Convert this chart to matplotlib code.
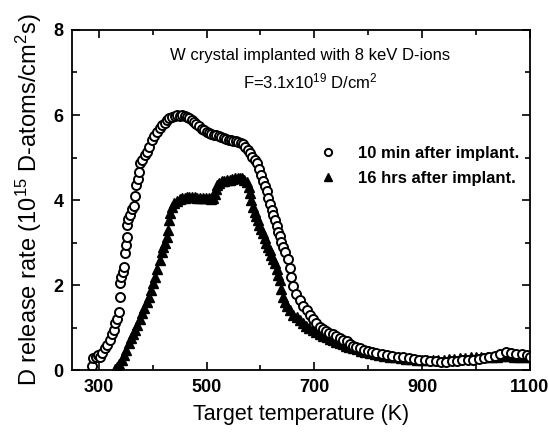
import numpy as np
import matplotlib
matplotlib.use('Agg')
import matplotlib.pyplot as plt
from matplotlib.ticker import MultipleLocator

plt.rcParams['font.family'] = ['Liberation Sans', 'DejaVu Sans']
plt.rcParams['mathtext.fontset'] = 'custom'
plt.rcParams['mathtext.rm'] = 'Liberation Sans'
plt.rcParams['mathtext.bf'] = 'Liberation Sans:bold'
plt.rcParams['mathtext.default'] = 'regular'

# 10 min after implant (open circles)
t_10min = [287, 290, 294, 298, 302, 306, 311, 316, 321, 325, 328, 330, 333, 337, 339, 339,
           341, 344, 347, 348, 350, 352, 352, 355, 358, 362, 365, 367, 369, 372, 374, 377,
           381, 385, 389, 393, 398, 403, 408, 413, 417, 422, 427, 431, 436, 441, 445, 450,
           454, 459, 463, 467, 472, 477, 481, 486, 491, 495, 500, 504, 509, 514, 518, 523,
           527, 532, 536, 541, 545, 549, 554, 558, 563, 567, 571, 576, 580, 584, 589, 593,
           597, 601, 604, 608, 612, 614, 618, 621, 624, 627, 630, 633, 636, 639, 642, 646,
           651, 654, 657, 660, 666, 673, 679, 686, 692, 698, 704, 710, 716, 722, 728, 734,
           740, 747, 753, 760, 766, 772, 778, 784, 792, 800, 808, 815, 825, 835, 845, 855,
           865, 875, 885, 895, 905, 915, 925, 935, 945, 955, 965, 975, 985, 995, 1005, 1015,
           1025, 1035, 1045, 1055, 1065, 1075, 1085, 1095, 1100]
r_10min = [0.10, 0.28, 0.30, 0.35, 0.30, 0.40, 0.52, 0.60, 0.71, 0.85, 0.94, 1.10, 1.20, 1.36, 1.72, 2.05,
           2.20, 2.30, 2.42, 2.75, 2.95, 3.13, 3.41, 3.55, 3.65, 3.80, 3.85, 4.10, 4.35, 4.50, 4.66, 4.87,
           4.95, 5.05, 5.12, 5.25, 5.41, 5.50, 5.60, 5.70, 5.76, 5.82, 5.88, 5.92, 5.95, 5.98, 6.00, 5.98,
           6.00, 5.97, 5.95, 5.93, 5.88, 5.83, 5.78, 5.74, 5.68, 5.64, 5.60, 5.58, 5.55, 5.53, 5.53, 5.50,
           5.48, 5.46, 5.44, 5.41, 5.41, 5.40, 5.38, 5.37, 5.35, 5.32, 5.25, 5.17, 5.10, 5.02, 4.95, 4.87,
           4.72, 4.60, 4.45, 4.32, 4.22, 4.05, 3.90, 3.76, 3.65, 3.53, 3.38, 3.25, 3.15, 3.02, 2.89, 2.78,
           2.62, 2.40, 2.20, 1.98, 1.80, 1.65, 1.52, 1.41, 1.30, 1.20, 1.10, 1.01, 0.96, 0.91, 0.88, 0.85,
           0.80, 0.76, 0.72, 0.68, 0.62, 0.58, 0.55, 0.52, 0.48, 0.45, 0.43, 0.40, 0.38, 0.36, 0.34, 0.32,
           0.30, 0.28, 0.27, 0.25, 0.24, 0.22, 0.21, 0.20, 0.20, 0.21, 0.22, 0.23, 0.23, 0.24, 0.26, 0.28,
           0.30, 0.33, 0.37, 0.42, 0.40, 0.37, 0.38, 0.35, 0.32]

# 16 hrs after implant (filled triangles)
t_16hrs = [330, 334, 338, 343, 347, 351, 356, 360, 364, 367, 371, 376, 380, 384, 389, 393,
           397, 401, 404, 408, 413, 417, 420, 423, 426, 428, 430, 433, 436, 440, 445, 450,
           454, 459, 463, 468, 472, 478, 483, 488, 493, 498, 504, 509, 512, 515, 517, 519,
           523, 528, 533, 538, 543, 548, 553, 558, 562, 566, 570, 575, 578, 580, 583, 586,
           589, 592, 595, 598, 601, 604, 608, 611, 614, 617, 620, 624, 627, 630, 633, 636,
           639, 642, 646, 650, 655, 661, 667, 673, 679, 685, 691, 697, 704, 710, 717, 723,
           729, 735, 741, 747, 753, 759, 765, 771, 779, 787, 795, 803, 812, 821, 830, 840,
           850, 860, 870, 880, 890, 900, 910, 920, 930, 940, 950, 960, 970, 980, 990, 1000,
           1010, 1020, 1030, 1040, 1050, 1060, 1070, 1080, 1090, 1100]
r_16hrs = [0.03, 0.08, 0.15, 0.23, 0.35, 0.48, 0.63, 0.75, 0.86, 0.94, 1.07, 1.20, 1.34, 1.46, 1.60, 1.72,
           1.88, 2.05, 2.19, 2.38, 2.59, 2.78, 2.90, 2.99, 3.13, 3.30, 3.53, 3.70, 3.84, 3.92, 3.98, 4.02,
           4.05, 4.05, 4.07, 4.07, 4.07, 4.07, 4.06, 4.06, 4.05, 4.05, 4.05, 4.02, 4.05, 4.15, 4.25, 4.35,
           4.40, 4.44, 4.46, 4.47, 4.48, 4.50, 4.51, 4.52, 4.52, 4.51, 4.48, 4.42, 4.30, 4.16, 4.00, 3.84,
           3.72, 3.62, 3.53, 3.42, 3.32, 3.22, 3.10, 2.98, 2.90, 2.82, 2.72, 2.62, 2.52, 2.38, 2.25, 2.12,
           1.92, 1.72, 1.60, 1.50, 1.41, 1.30, 1.24, 1.18, 1.11, 1.05, 0.99, 0.94, 0.89, 0.85, 0.81, 0.78,
           0.74, 0.71, 0.67, 0.64, 0.61, 0.58, 0.55, 0.52, 0.49, 0.46, 0.43, 0.40, 0.38, 0.35, 0.33, 0.31,
           0.30, 0.28, 0.27, 0.26, 0.25, 0.25, 0.24, 0.24, 0.25, 0.25, 0.26, 0.27, 0.28, 0.29, 0.30, 0.30,
           0.30, 0.31, 0.32, 0.32, 0.33, 0.33, 0.32, 0.32, 0.31, 0.30]

fig = plt.figure(figsize=(5.49, 4.34), dpi=100)
ax = fig.add_axes([0.131, 0.147, 0.834, 0.784])

# 三角形先画，圆圈在上面
ax.plot(t_16hrs, r_16hrs, ls='none', marker='^', ms=7, mfc='black', mec='black',
        label='16 hrs after implant.')
ax.plot(t_10min, r_10min, ls='none', marker='o', ms=6.5, mfc='white', mec='black', mew=1.4,
        label='10 min after implant.')

ax.set_xlim(250, 1100)
ax.set_ylim(0, 8)
ax.xaxis.set_minor_locator(MultipleLocator(100))
ax.set_xticks([300, 500, 700, 900, 1100])
ax.yaxis.set_major_locator(MultipleLocator(2))
ax.yaxis.set_minor_locator(MultipleLocator(1))
ax.tick_params(which='both', direction='in', top=True, right=True, width=1.2)
ax.tick_params(which='major', length=6, labelsize=13, pad=6)
ax.tick_params(which='minor', length=3.5)
for lbl in ax.get_xticklabels() + ax.get_yticklabels():
    lbl.set_fontweight('bold')
for s in ax.spines.values():
    s.set_linewidth(1.3)

ax.set_xlabel('Target temperature (K)', fontsize=15.5, labelpad=6)
ax.set_ylabel(r'D release rate (10$^{15}$ D-atoms/cm$^{2}$s)', fontsize=17, labelpad=7)

ax.text(0.52, 0.925, 'W crystal implanted with 8 keV D-ions', transform=ax.transAxes,
        ha='center', va='center', fontsize=12)
ax.text(0.52, 0.85, r'F=3.1x10$^{19}$ D/cm$^{2}$', transform=ax.transAxes,
        ha='center', va='center', fontsize=12)

h, l = ax.get_legend_handles_labels()
leg = ax.legend(h[::-1], l[::-1], loc='center right', bbox_to_anchor=(1.01, 0.6), frameon=False,
                prop={'size': 12, 'weight': 'bold'}, handletextpad=0.8, labelspacing=0.6,
                markerscale=0.8)

fig.savefig('out.png', dpi=100)
